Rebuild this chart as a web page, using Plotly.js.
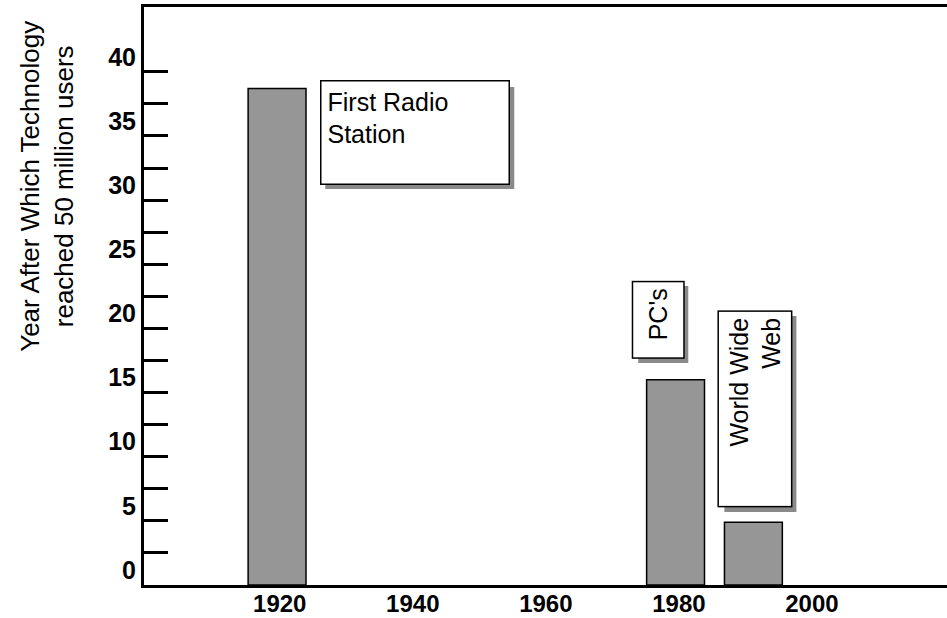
<!DOCTYPE html>
<html>
<head>
<meta charset="utf-8">
<script src="https://cdn.plot.ly/plotly-3.0.1.min.js"></script>
<style>
html,body{margin:0;padding:0;background:#fff;overflow:hidden;}
#chart{width:947px;height:618px;}
</style>
</head>
<body>
<div id="chart"></div>
<script>
// Data
var years = [1919.6, 1979.5, 1991.2];
var yearsToReach = [38.7, 16, 4.9];
var labelTexts = ["First Radio<br>Station", "PC's", "World Wide<br>Web"];
var yTickVals = [0, 5, 10, 15, 20, 25, 30, 35, 40];
var yTickText = ["0", "5", "10", "15", "20", "25", "30", "35", "40"];
var yMinorVals = [2.5, 7.5, 12.5, 17.5, 22.5, 27.5, 32.5, 37.5];
var xTickVals = [1920, 1940, 1960, 1980, 2000];
var xTickText = ["1920", "1940", "1960", "1980", "2000"];

// Label box placement (centre in data units, size in pixels on screen)
var boxes = [
  {cx: 1940.3, cy: 35.23, w: 189, h: 102, angle: 0, align: "left", valign: "top"},
  {cx: 1976.9, cy: 20.69, w: 50, h: 77, angle: -90, align: "right", valign: "middle"},
  {cx: 1991.5, cy: 13.72, w: 72, h: 196, angle: -90, align: "right", valign: "middle"}
];

var FONT = "Liberation Sans, Arial, Helvetica, sans-serif";

var trace = {
  type: "bar",
  x: years,
  y: yearsToReach,
  width: 8.7,
  marker: {color: "#969696", line: {color: "#000", width: 1.5}},
  hoverinfo: "skip"
};

var shapes = [];
var annotations = [];
boxes.forEach(function(b, i){
  shapes.push({
    type: "rect", layer: "above",
    xref: "x", yref: "y",
    xsizemode: "pixel", ysizemode: "pixel",
    xanchor: b.cx, yanchor: b.cy,
    x0: -b.w/2 + 5, x1: b.w/2 + 5,
    y0: -b.h/2 - 5, y1: b.h/2 - 5,
    fillcolor: "#8a8a8a", line: {width: 0}
  });
  var unW = b.angle === 0 ? b.w : b.h;
  var unH = b.angle === 0 ? b.h : b.w;
  annotations.push({
    xref: "x", yref: "y", x: b.cx, y: b.cy,
    xanchor: "center", yanchor: "middle",
    text: labelTexts[i], showarrow: false,
    textangle: b.angle,
    width: unW - 14, height: unH - 12,
    align: b.align, valign: b.valign,
    bgcolor: "#fff", bordercolor: "#000", borderwidth: 1.5, borderpad: 6,
    font: {family: FONT, size: 25, color: "#000"}
  });
});

// y-axis title as free text
annotations.push({
  xref: "paper", yref: "paper", x: -0.12, y: 0.69,
  xanchor: "center", yanchor: "middle",
  text: "Year After Which Technology<br>reached 50 million users",
  textangle: -90, showarrow: false,
  font: {family: FONT, size: 26, color: "#000"}
});

var layout = {
  width: 947, height: 618,
  margin: {l: 144, r: 0, t: 7, b: 33},
  paper_bgcolor: "#fff", plot_bgcolor: "#fff",
  showlegend: false,
  font: {family: FONT, color: "#000"},
  xaxis: {
    range: [1899.6, 2020.3],
    tickmode: "array", tickvals: xTickVals, ticktext: xTickText,
    ticks: "", showgrid: false, zeroline: false,
    showline: true, linecolor: "#000", linewidth: 3, mirror: true,
    ticklabelstandoff: -5,
    tickfont: {family: FONT, size: 24, color: "#000", weight: "bold"},
    fixedrange: true
  },
  yaxis: {
    range: [0, 45.05],
    tickmode: "array", tickvals: yTickVals, ticktext: yTickText,
    ticks: "inside", ticklen: 24, tickwidth: 3, tickcolor: "#000",
    minor: {tickmode: "array", tickvals: yMinorVals, ticks: "inside", ticklen: 24, tickwidth: 3, tickcolor: "#000", showgrid: false},
    ticklabelshift: -15,
    showgrid: false, zeroline: false,
    showline: true, linecolor: "#000", linewidth: 3, mirror: false,
    tickfont: {family: FONT, size: 25, color: "#000", weight: "bold"},
    fixedrange: true
  },
  shapes: shapes,
  annotations: annotations
};

Plotly.newPlot("chart", [trace], layout, {staticPlot: true, displayModeBar: false});
</script>
</body>
</html>
